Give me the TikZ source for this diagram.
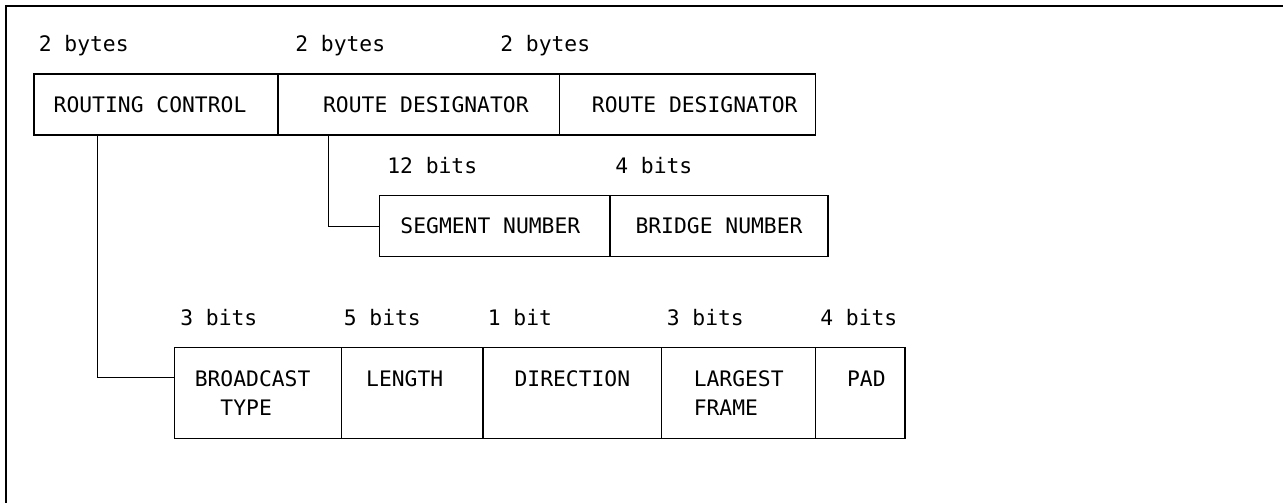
\documentclass[tikz,border=0pt]{standalone}
\usepackage{fontspec}
\setmainfont{DejaVu Sans Mono}
\usetikzlibrary{calc}
\newdimen\pxu \pxu=0.75pt
\newcommand{\cellfont}{\fontsize{16pt}{21.75pt}\selectfont}
\begin{document}
\begin{tikzpicture}[x=0.75pt,y=-0.75pt,
  cell/.style={draw, line width=1.1pt, inner sep=0pt, align=left, font=\cellfont, anchor=north west},
  lbl/.style={inner sep=0pt, anchor=base west, font=\cellfont},
  conn/.style={line width=1.1pt},
  frame/.style={line width=1.5pt}]
\useasboundingbox (0,0) rectangle (1283,503);
\draw[frame] (1283,6) -- (6,6) -- (6,503);
% size labels
\node[lbl] (l1) at (38.5,51.5) {2 bytes};
\node[lbl] (l2) at (295,51.5) {2 bytes};
\node[lbl] (l3) at (500,51.5) {2 bytes};
\node[lbl] (l4) at (387,173.3) {12 bits};
\node[lbl] (l5) at (615,173.3) {4 bits};
\node[lbl] (l6) at (180,325) {3 bits};
\node[lbl] (l7) at (343.5,325) {5 bits};
\node[lbl] (l8) at (487.5,325) {1 bit};
\node[lbl] (l9) at (666.5,325) {3 bits};
\node[lbl] (l10) at (820,325) {4 bits};
% top row
\node[cell, minimum width=244*\pxu, minimum height=61*\pxu] (rc) at (33.3,73.3) {\hspace*{-12\pxu}ROUTING CONTROL};
\node[cell, minimum width=281.7*\pxu, minimum height=61*\pxu] (rd1) at (277.3,73.3) {\hspace*{14\pxu}ROUTE DESIGNATOR};
\node[cell, minimum width=256*\pxu, minimum height=61*\pxu] (rd2) at (559,73.3) {\hspace*{14\pxu}ROUTE DESIGNATOR};
% route designator detail
\node[cell, minimum width=230.3*\pxu, minimum height=61*\pxu] (seg) at (379,195) {\hspace*{-9\pxu}SEGMENT NUMBER};
\node[cell, minimum width=218*\pxu, minimum height=61*\pxu] (br) at (609.3,195) {BRIDGE NUMBER};
% routing control detail
\node[cell, minimum width=166.7*\pxu, minimum height=91*\pxu] (bc) at (174,346.7) {\hspace*{-11\pxu}BROADCAST\\\hspace*{-11\pxu}\phantom{BR}TYPE};
\node[cell, minimum width=141.6*\pxu, minimum height=91*\pxu] (len) at (340.7,346.7) {\hspace*{-15\pxu}LENGTH\\\mbox{}};
\node[cell, minimum width=178.7*\pxu, minimum height=91*\pxu] (dir) at (482.3,346.7) {DIRECTION\\\mbox{}};
\node[cell, minimum width=154*\pxu, minimum height=91*\pxu] (lf) at (661,346.7) {LARGEST\\FRAME};
\node[cell, minimum width=89.3*\pxu, minimum height=91*\pxu] (pad) at (815,346.7) {\hspace*{12\pxu}PAD\\\mbox{}};
% connectors
\draw[conn] ($(rc.south west)+(64.4,0)$) |- ($(bc.north west)+(0,31)$);
\draw[conn] ($(rd1.south west)+(51,0)$) |- (seg.west);
\end{tikzpicture}
\end{document}
